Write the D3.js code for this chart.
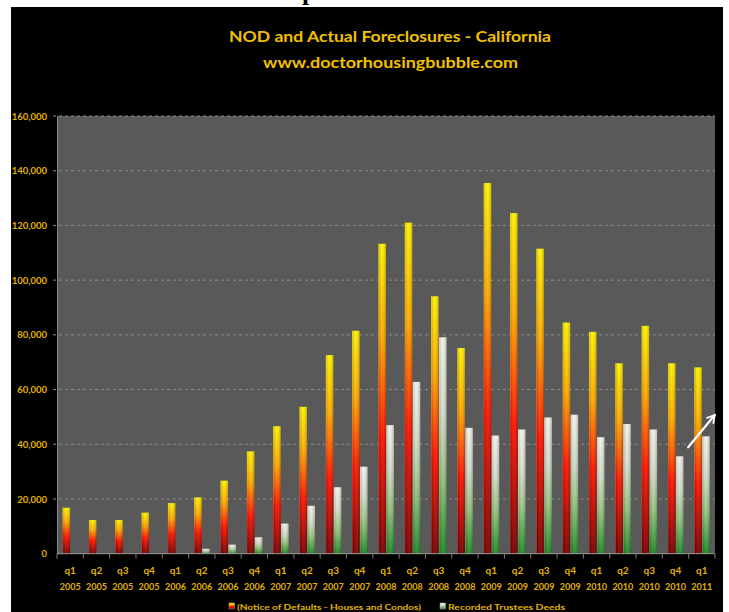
<!DOCTYPE html>
<html><head><meta charset="utf-8">
<script src="https://cdn.jsdelivr.net/npm/d3@7"></script>
<style>html,body{margin:0;padding:0;background:#fff;}svg{display:block;}</style>
</head><body>
<svg id="chart" width="729" height="612"></svg>
<script>
const quarters = ["q1","q2","q3","q4","q1","q2","q3","q4","q1","q2","q3","q4","q1","q2","q3","q4","q1","q2","q3","q4","q1","q2","q3","q4","q1"];
const years = ["2005","2005","2005","2005","2006","2006","2006","2006","2007","2007","2007","2007","2008","2008","2008","2008","2009","2009","2009","2009","2010","2010","2010","2010","2011"];
const nodValues = [16800,12300,12300,15000,18500,20600,26700,37400,46600,53700,72600,81500,113300,121000,94100,75200,135500,124500,111500,84500,81100,69600,83300,69600,68100];
const deedValues = [0,0,0,0,0,1800,3300,6000,11000,17500,24300,31800,47000,62800,79100,46000,43200,45400,49800,50800,42600,47400,45400,35600,42900];
const yTicks = [0,20000,40000,60000,80000,100000,120000,140000,160000];
const seriesNames = ["(Notice of Defaults - Houses and Condos)","Recorded Trustees Deeds"];
const titleLines = ["NOD and Actual Foreclosures - California","www.doctorhousingbubble.com"];

const svg = d3.select("#chart");
const panel = {x0: 11, y0: 7, x1: 723, y1: 612};
const plot = {left: 57, right: 715, top: 116, bottom: 553.7};
const gold = "#e3b200";
const font = "Lato, 'Open Sans', sans-serif";

// defs
const defs = svg.append("defs");
const gN = defs.append("linearGradient").attr("id","gNod").attr("x1",0).attr("y1",0).attr("x2",0).attr("y2",1);
[["0%","#fff200"],["30%","#ffab00"],["62%","#ff1400"],["100%","#7a0000"]].forEach(s=>gN.append("stop").attr("offset",s[0]).attr("stop-color",s[1]));
const gD = defs.append("linearGradient").attr("id","gDeed").attr("x1",0).attr("y1",0).attr("x2",0).attr("y2",1);
[["0%","#f2f2ea"],["35%","#d2dcc8"],["65%","#94c27e"],["100%","#1f8a25"]].forEach(s=>gD.append("stop").attr("offset",s[0]).attr("stop-color",s[1]));
const gS = defs.append("linearGradient").attr("id","gShade").attr("x1",0).attr("y1",0).attr("x2",1).attr("y2",0);
[["0%","rgba(255,255,255,0.22)"],["15%","rgba(0,0,0,0.12)"],["45%","rgba(255,255,255,0.05)"],["100%","rgba(0,0,0,0.22)"]].forEach(s=>gS.append("stop").attr("offset",s[0]).attr("stop-color",s[1]));
const mk = defs.append("marker").attr("id","arrowHead").attr("viewBox","0 0 10 10").attr("refX",8).attr("refY",5)
  .attr("markerWidth",5).attr("markerHeight",5).attr("orient","auto").attr("markerUnits","strokeWidth");
mk.append("path").attr("d","M1,1 L8,5 L1,9").attr("fill","none").attr("stroke","#fff").attr("stroke-width",1.6);

// partial clipped text at very top (white page), as in the reference
svg.append("text").attr("x",302).attr("y",0).attr("font-family","'Liberation Serif', serif").attr("font-weight","bold")
  .attr("font-size",26).attr("fill","#000").text("p");

// black panel
svg.append("rect").attr("x",panel.x0).attr("y",panel.y0).attr("width",panel.x1-panel.x0).attr("height",panel.y1-panel.y0).attr("fill","#000");

// title
svg.append("text").attr("x",390).attr("y",42).attr("text-anchor","middle").attr("font-family",font).attr("font-weight","bold")
  .attr("font-size",16).attr("fill","#f3c000").attr("textLength",322).attr("lengthAdjust","spacingAndGlyphs").text(titleLines[0]);
svg.append("text").attr("x",390.5).attr("y",68).attr("text-anchor","middle").attr("font-family",font).attr("font-weight","bold")
  .attr("font-size",16).attr("fill","#f3c000").attr("textLength",255).attr("lengthAdjust","spacingAndGlyphs").text(titleLines[1]);

// scales
const cats = quarters.map((q,i)=>i);
const x0 = d3.scaleBand().domain(cats).range([plot.left, plot.right]).paddingInner(0).paddingOuter(0);
const bw = x0.bandwidth();
const x1 = d3.scaleBand().domain(["nod","deed"]).range([0.215*bw, 0.8*bw]).paddingInner(0.07);
const y = d3.scaleLinear().domain([0,160000]).range([plot.bottom, plot.top]);

// plot background
svg.append("rect").attr("x",plot.left).attr("y",plot.top).attr("width",plot.right-plot.left).attr("height",plot.bottom-plot.top).attr("fill","#595959");

// gridlines
svg.append("g").selectAll("line").data(yTicks.filter(d=>d>0)).join("line")
  .attr("x1",plot.left-4).attr("x2",plot.right).attr("y1",d=>y(d)).attr("y2",d=>y(d))
  .attr("stroke","#8c8c8c").attr("stroke-width",1).attr("stroke-dasharray","3,3");

// y axis
const yAxis = d3.axisLeft(y).tickValues(yTicks).tickSize(0).tickPadding(10).tickFormat(d3.format(","));
const gy = svg.append("g").attr("transform",`translate(${plot.left},0)`).call(yAxis);
gy.select(".domain").attr("stroke","#8a8a8a");
gy.selectAll("text").attr("fill",gold).attr("font-family",font).attr("font-size",9.5).attr("font-weight","bold");

// bars
const groups = svg.append("g").selectAll("g").data(cats).join("g").attr("transform",d=>`translate(${x0(d)},0)`);
const barData = i => [{k:"nod",v:nodValues[i]},{k:"deed",v:deedValues[i]}].filter(b=>b.v>0);
groups.selectAll("rect.bar").data(barData).join("rect").attr("class","bar")
  .attr("x",d=>x1(d.k)).attr("width",x1.bandwidth())
  .attr("y",d=>y(d.v)).attr("height",d=>y(0)-y(d.v))
  .attr("fill",d=>d.k==="nod"?"url(#gNod)":"url(#gDeed)");
groups.selectAll("rect.shade").data(barData).join("rect").attr("class","shade")
  .attr("x",d=>x1(d.k)).attr("width",x1.bandwidth())
  .attr("y",d=>y(d.v)).attr("height",d=>y(0)-y(d.v))
  .attr("fill","url(#gShade)");

// x axis
svg.append("line").attr("x1",plot.left).attr("x2",plot.right).attr("y1",plot.bottom).attr("y2",plot.bottom).attr("stroke","#9a9a9a");
svg.append("g").selectAll("line").data(d3.range(cats.length+1)).join("line")
  .attr("x1",d=>plot.left+d*bw).attr("x2",d=>plot.left+d*bw)
  .attr("y1",plot.bottom).attr("y2",plot.bottom+5).attr("stroke","#7a7a7a");
const xl = svg.append("g").attr("font-family",font).attr("font-weight","bold").attr("fill",gold).attr("text-anchor","middle");
xl.selectAll("text.q").data(cats).join("text").attr("class","q")
  .attr("x",d=>x0(d)+bw/2).attr("y",574).attr("font-size",10).text(d=>quarters[d]);
xl.selectAll("text.yr").data(cats).join("text").attr("class","yr")
  .attr("x",d=>x0(d)+bw/2).attr("y",589.5).attr("font-size",10).attr("textLength",21).attr("lengthAdjust","spacingAndGlyphs").text(d=>years[d]);

// legend
const legend = svg.append("g").attr("font-family",font).attr("font-size",8).attr("fill",gold).attr("font-weight","bold");
const legItems = [{name:seriesNames[0],fill:"url(#gNod)",x:229,w:184},{name:seriesNames[1],fill:"url(#gDeed)",x:440,w:117}];
legItems.forEach(it=>{
  legend.append("rect").attr("x",it.x).attr("y",603).attr("width",5.5).attr("height",6).attr("fill",it.fill).attr("stroke","#bbb").attr("stroke-width",0.4);
  legend.append("text").attr("x",it.x+8).attr("y",609.5).attr("textLength",it.w).attr("lengthAdjust","spacingAndGlyphs").text(it.name);
});

// annotation arrow (positioned by data scales)
const arrowFrom = {cat: 23, frac: 0.98, v: 38900};
const arrowTo = {cat: 24, frac: 0.99, v: 50700};
svg.append("line")
  .attr("x1", x0(arrowFrom.cat)+arrowFrom.frac*bw).attr("y1", y(arrowFrom.v))
  .attr("x2", x0(arrowTo.cat)+arrowTo.frac*bw).attr("y2", y(arrowTo.v))
  .attr("stroke","#fff").attr("stroke-width",2.2).attr("stroke-linecap","round").attr("marker-end","url(#arrowHead)");
</script>
</body></html>
